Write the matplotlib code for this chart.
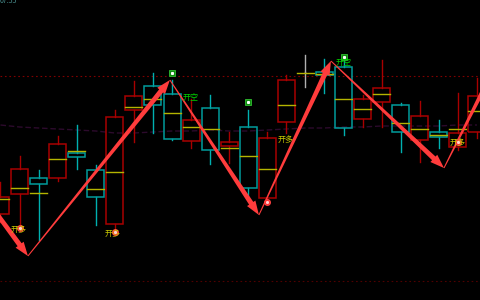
import numpy as np
import matplotlib
matplotlib.use('Agg')
import matplotlib.pyplot as plt
from matplotlib.patches import Rectangle, Polygon

plt.rcParams['font.family'] = ['Noto Sans CJK SC', 'DejaVu Sans']

# candle data (price units), index = bar number
opens  = [86, 106, 122, 122, 147, 130, 76, 190, 214, 206, 159, 192, 154, 173, 102, 178, 228, 228, 233, 181, 198, 195, 160, 168, 153, 168]
highs  = [118, 144, 130, 164, 175, 135, 190, 219, 227, 220, 201, 205, 168, 190, 168, 225, 245, 241, 243, 205, 240, 197, 199, 180, 207, 222]
lows   = [78, 73, 60, 119, 131, 75, 70, 158, 167, 160, 152, 136, 137, 103, 98, 167, 213, 207, 165, 173, 173, 148, 138, 152, 150, 162]
closes = [103, 131, 116, 156, 143, 103, 183, 204, 195, 161, 180, 150, 158, 112, 162, 220, 228, 225, 172, 201, 212, 168, 184, 163, 167, 204]
avgs   = [101, 112, 107, 141, 149, 111, 128, 193, 201, 187, 173, 171, 152, 144, 131, 195, 227, 226, 201, 191, 206, 177, 171, 165, 171, 189]

# moving average curve
ma = [175, 173, 172, 171, 170, 169, 167, 167, 168, 169, 169, 170, 169, 169, 170, 171, 172, 172, 173, 173, 174, 174, 174, 174, 175, 175]

# signals: (bar, price)
buy_bars = [1, 6, 14, 24]
buy_px = [72, 68, 98, 158]
sell_bars = [9, 13, 18]
sell_px = [227, 198, 243]
buy_text = [(0.97, 71), (5.88, 67), (14.98, 161), (23.97, 158)]
sell_text = [(10.0, 203), (18.0, 238)]

# zigzag swing points
piv_x = [-3.2, 1.44, 8.89, 13.56, 17.34, 23.27, 26.2]
piv_y = [164, 44, 220, 85, 239, 132, 243]

hi_level = 224
lo_level = 19

RED = '#a80000'
CYAN = '#009c9c'
CYAN_W = '#00b0b0'
YEL = '#b4b400'
ARROW = '#ff3c3c'


def draw_candles(ax):
    w = 0.89
    for i in range(len(opens)):
        o, h, l, c = opens[i], highs[i], lows[i], closes[i]
        top, bot = max(o, c), min(o, c)
        if c > o:
            col, wc = RED, RED
        elif c < o:
            col, wc = CYAN, CYAN_W
        else:
            col, wc = '#b0b0b0', '#b0b0b0'
        ax.plot([i, i], [top, h], color=wc, lw=1.0, zorder=2)
        ax.plot([i, i], [l, bot], color=wc, lw=1.0, zorder=2)
        if top - bot > 0.5:
            ax.add_patch(Rectangle((i - w / 2, bot), w, top - bot, fill=False,
                                   ec=col, lw=1.1, zorder=3))
        ax.plot([i - w / 2, i + w / 2], [avgs[i], avgs[i]], color=YEL, lw=1.0, zorder=3)


def draw_arrow(ax, p0, p1, w0=1.0, w1=5.0, hl=14, hw=10):
    a = ax.transData.transform(p0)
    b = ax.transData.transform(p1)
    d = b - a
    u = d / np.hypot(*d)
    n = np.array([-u[1], u[0]])
    base = b - u * hl
    pts = [a + n * w0 / 2, base + n * w1 / 2, base + n * hw / 2, b,
           base - n * hw / 2, base - n * w1 / 2, a - n * w0 / 2]
    pts = ax.transData.inverted().transform(np.array(pts))
    ax.add_patch(Polygon(pts, closed=True, fc=ARROW, ec='none', zorder=6))


fig = plt.figure(figsize=(4.8, 3), dpi=100, facecolor='black')
ax = fig.add_axes([0, 0, 1, 1])
ax.set_facecolor('black')
ax.set_xlim(-0.026, 25.16)
ax.set_ylim(0, 300)
ax.axis('off')

ax.axhline(hi_level, color='#800000', lw=0.8, ls=(0, (1.5, 2.5)), zorder=1)
ax.axhline(lo_level, color='#500000', lw=0.8, ls=(0, (1.5, 2.5)), zorder=1)
ax.plot(range(len(ma)), ma, color='#2c0a2c', lw=1.0, ls=(0, (4, 2)), zorder=1)

draw_candles(ax)

# signal markers
ax.plot(buy_bars, buy_px, 'o', color='#ff1a1a', ms=4, mec='#ff4040', zorder=7)
ax.plot(buy_bars, buy_px, 'o', color='#ffd0d0', ms=1.3, zorder=8)
ax.plot(sell_bars, sell_px, 's', color='#108a10', ms=4, mec='#30c030', mew=0.6, zorder=7)
ax.plot(sell_bars, sell_px, 's', color='white', ms=1.2, zorder=8)
for x, y in buy_text:
    ax.text(x, y, '开多', color='#c8c800', fontsize=5.8, ha='center', va='center', zorder=7)
for x, y in sell_text:
    ax.text(x, y, '开空', color='#00d000', fontsize=5.8, ha='center', va='center', zorder=7)

# zigzag arrows
for k in range(len(piv_x) - 1):
    w0 = 3.0 if k == 0 else 1.0
    draw_arrow(ax, (piv_x[k], piv_y[k]), (piv_x[k + 1], piv_y[k + 1]), w0=w0)

fig.text(0.0, 0.998, '07:55', color='#4a9090', fontsize=5, ha='left', va='center')

fig.savefig('out.png', dpi=100, facecolor='black')
